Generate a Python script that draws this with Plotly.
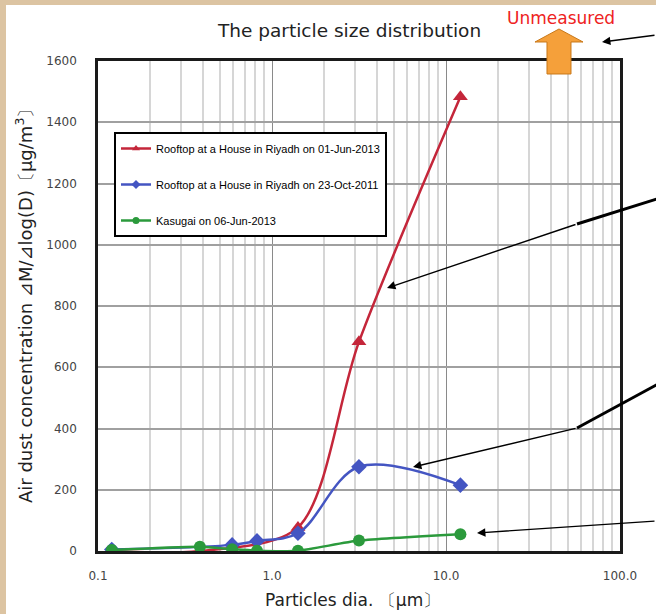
import plotly.graph_objects as go

# ---------------- data ----------------
red_name = "Rooftop at a House in Riyadh on 01-Jun-2013"
red_x = [0.12, 0.385, 1.41, 3.16, 12.1]
red_y = [0, 0, 77, 683, 1483]

blue_name = "Rooftop at a House in Riyadh on 23-Oct-2011"
blue_x = [0.12, 0.59, 0.82, 1.41, 3.16, 12.1]
blue_y = [5, 20, 33, 58, 275, 215]

green_name = "Kasugai on 06-Jun-2013"
green_x = [0.12, 0.385, 0.59, 0.82, 1.41, 3.16, 12.1]
green_y = [3, 14, 6, 1, 1, 34, 55]

x_tickvals = [0.1, 1, 10, 100]
x_ticktext = ["0.1", "1.0", "10.0", "100.0"]
y_tickvals = [0, 200, 400, 600, 800, 1000, 1200, 1400, 1600]

# ---------------- layout geometry ----------------
W, H = 656, 614
L, R, T, B = 98, 620, 61, 551  # plot area in pixels


def px(xp):
    return (xp - L) / (R - L)


def py(yp):
    return (B - yp) / (B - T)


RED = "#c4263a"
BLUE = "#4455c2"
GREEN = "#2b9a3c"

fig = go.Figure()
series = [
    (red_name, red_x, red_y, RED, "triangle-up", 13, 0.85),
    (blue_name, blue_x, blue_y, BLUE, "diamond", 12, 1.0),
    (green_name, green_x, green_y, GREEN, "circle", 12, 0.6),
]
for name, xs, ys, col, sym, size, smooth in series:
    fig.add_trace(go.Scatter(x=xs, y=ys, name=name, mode="lines+markers",
                             line=dict(color=col, width=2.5, shape="spline", smoothing=smooth),
                             marker=dict(symbol=sym, size=size, color=col),
                             showlegend=False))
# legend-only entries (smaller symbols, as in the reference legend)
for i, (name, xs, ys, col, sym, size, smooth) in enumerate(series):
    fig.add_trace(go.Scatter(x=[None], y=[None], name=name, mode="lines+markers",
                             line=dict(color=col, width=2.5),
                             marker=dict(symbol=sym, size=7, color=col),
                             legendgroup=f"g{i}", showlegend=True))

minor_vals = [m * 10 ** e for e in (-1, 0, 1) for m in range(2, 10)]

fig.update_xaxes(type="log", range=[-1, 2], tickvals=x_tickvals, ticktext=x_ticktext,
                 showgrid=True, gridcolor="#8a8a8a", gridwidth=1.2,
                 minor=dict(tickvals=minor_vals, showgrid=True, gridcolor="#d6d6d6", gridwidth=1.5),
                 showline=True, linecolor="#1a1a1a", linewidth=2.5, mirror=True,
                 ticks="outside", ticklen=12, tickcolor="rgba(0,0,0,0)",
                 tickfont=dict(family="DejaVu Sans", size=12, color="#444"),
                 zeroline=False)
fig.update_yaxes(range=[0, 1600], tickvals=y_tickvals,
                 showgrid=True, gridcolor="#a0a0a0", gridwidth=1.5,
                 showline=True, linecolor="#1a1a1a", linewidth=2.5, mirror=True,
                 ticks="outside", ticklen=16, tickcolor="rgba(0,0,0,0)",
                 tickfont=dict(family="DejaVu Sans", size=12, color="#444"),
                 zeroline=False)

shapes = []
# white page panel over beige background
shapes.append(dict(type="rect", xref="paper", yref="paper",
                   x0=px(6), x1=px(670), y0=py(630), y1=py(5),
                   fillcolor="white", line=dict(width=0), layer="below"))

# orange "unmeasured" arrow
pts = [(559, 29), (583, 42), (571, 42), (571, 74), (547, 74), (547, 42), (535, 42)]
path = "M " + " L ".join(f"{px(a):.5f},{py(b):.5f}" for a, b in pts) + " Z"
shapes.append(dict(type="path", xref="paper", yref="paper", path=path,
                   fillcolor="#f5a03a", line=dict(color="#c97818", width=1), layer="above"))

# thick parts of pointer lines at the right edge
for (x0, y0, x1, y1) in [(577, 224, 660, 198), (577, 428, 660, 383)]:
    shapes.append(dict(type="line", xref="paper", yref="paper",
                       x0=px(x0), y0=py(y0), x1=px(x1), y1=py(y1),
                       line=dict(color="black", width=3)))

annotations = []
# pointer arrows (head position, tail offset in pixels)
for (hx, hy, tx, ty) in [(602, 42, 660, 35), (387, 288, 577, 224),
                         (413, 467, 577, 428), (477, 533, 660, 521)]:
    annotations.append(dict(x=px(hx), y=py(hy), xref="paper", yref="paper", text="",
                            showarrow=True, ax=tx - hx, ay=ty - hy,
                            arrowhead=2, arrowsize=1.2, arrowwidth=1.4, arrowcolor="black"))

def label(xp, yp, text, size, color="#222", angle=0):
    annotations.append(dict(x=px(xp), y=py(yp), xref="paper", yref="paper",
                            xanchor="center", yanchor="middle", text=text,
                            showarrow=False, textangle=angle,
                            font=dict(family="DejaVu Sans", size=size, color=color)))

label(349, 31, "The particle size distribution", 18.5)
label(561, 18, "Unmeasured", 17, color="#ee2222")
label(352, 600, "Particles dia. 〔μm〕", 17)
label(24, 302, "Air dust concentration ⊿M/⊿log(D)〔μg/m<sup>3</sup>〕", 18, angle=-90)

fig.update_layout(
    width=W, height=H,
    margin=dict(l=L, r=W - R, t=T, b=H - B, pad=0),
    paper_bgcolor="#dcc4a2", plot_bgcolor="white",
    shapes=shapes, annotations=annotations,
    showlegend=True,
    legend=dict(x=px(114), y=py(132), xanchor="left", yanchor="top",
                bgcolor="white", bordercolor="black", borderwidth=2,
                font=dict(family="Liberation Sans, Arial", size=11, color="black"),
                tracegroupgap=17),
)

fig.write_html("out.html", config={"displayModeBar": False},
               post_script="document.body.style.margin='0';document.body.style.overflow='hidden';")
